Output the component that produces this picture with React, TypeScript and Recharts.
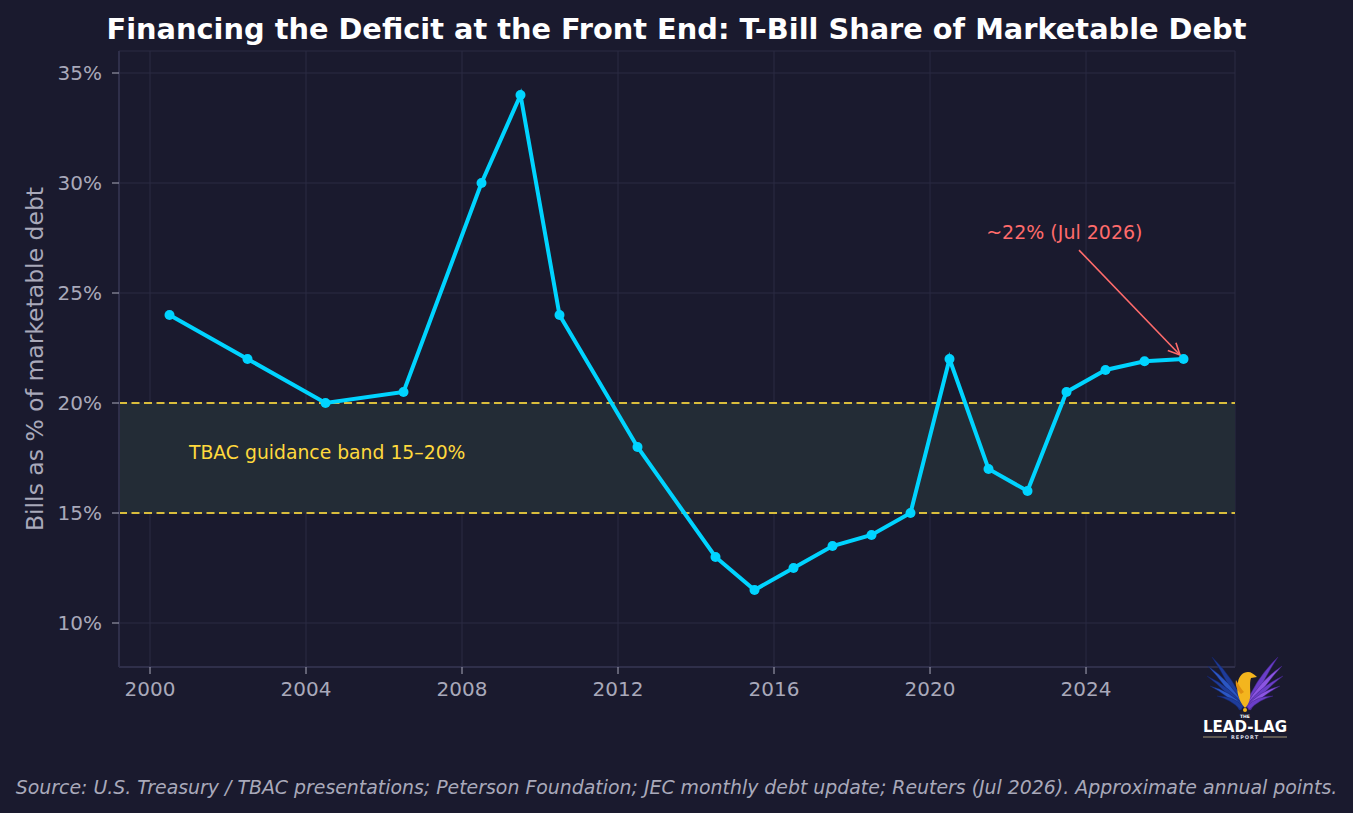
import React from "react";
import {
  LineChart,
  Line,
  XAxis,
  YAxis,
  CartesianGrid,
  ReferenceArea,
  ReferenceLine,
  ReferenceDot,
} from "recharts";

// Mid-year observation points (fractional years) and T-bill share of marketable debt (%)
const years = [
  2000.5, 2002.5, 2004.5, 2006.5, 2008.5, 2009.5, 2010.5, 2012.5, 2014.5, 2015.5,
  2016.5, 2017.5, 2018.5, 2019.5, 2020.5, 2021.5, 2022.5, 2023.5, 2024.5, 2025.5, 2026.5,
];
const billShare = [
  24, 22, 20, 20.5, 30, 34, 24, 18, 13, 11.5,
  12.5, 13.5, 14, 15, 22, 17, 16, 20.5, 21.5, 21.9, 22,
];

const xTicks = [2000, 2004, 2008, 2012, 2016, 2020, 2024];
const yTicks = [10, 15, 20, 25, 30, 35];

const bandLow = 15;
const bandHigh = 20;
const bandLabel = "TBAC guidance band 15–20%";
const calloutText = "~22% (Jul 2026)";

const title = "Financing the Deficit at the Front End: T-Bill Share of Marketable Debt";
const yLabel = "Bills as % of marketable debt";
const source =
  "Source: U.S. Treasury / TBAC presentations; Peterson Foundation; JEC monthly debt update; Reuters (Jul 2026). Approximate annual points.";

const data = years.map((year, i) => ({ year, share: billShare[i] }));

const BG = "#1a1a2e";
const CYAN = "#00d4ff";
const GOLD = "#ffd93d";
const CORAL = "#ff6b6b";
const MUTED = "#a9a9ba";
const FONT = "'DejaVu Sans', sans-serif";

const Arrow = (props: any) => {
  const { x1, y1, x2, y2 } = props;
  const ang = Math.atan2(y2 - y1, x2 - x1);
  const len = 13;
  const spread = 0.45;
  const ax = x2 - len * Math.cos(ang - spread);
  const ay = y2 - len * Math.sin(ang - spread);
  const bx = x2 - len * Math.cos(ang + spread);
  const by = y2 - len * Math.sin(ang + spread);
  return (
    <g>
      <line x1={x1} y1={y1} x2={x2} y2={y2} stroke={CORAL} strokeWidth={1.6} />
      <polyline
        points={`${ax},${ay} ${x2},${y2} ${bx},${by}`}
        fill="none"
        stroke={CORAL}
        strokeWidth={1.6}
      />
    </g>
  );
};

// A single tapered feather from base (bx, by) to tip (tx, ty)
const feather = (bx: number, by: number, tx: number, ty: number, w: number, bend: number) => {
  const dx = tx - bx;
  const dy = ty - by;
  const l = Math.hypot(dx, dy);
  const nx = -dy / l;
  const ny = dx / l;
  const mx = (bx + tx) / 2 + nx * bend;
  const my = (by + ty) / 2 + ny * bend;
  return `M${bx + nx * w},${by + ny * w} Q${mx + nx * w},${my + ny * w} ${tx},${ty} Q${mx - nx * w},${my - ny * w} ${bx - nx * w},${by - ny * w} Z`;
};

const leftTips = [
  [22, 7],
  [18, 16],
  [17, 26],
  [20, 36],
  [27, 46],
];
const rightTips = leftTips.map(([x, y]) => [110 - x, y]);

const Logo = () => (
  <svg
    width={110}
    height={95}
    viewBox="0 0 110 95"
    style={{ position: "absolute", left: 1190, top: 650 }}
  >
    {leftTips.map(([x, y], i) => (
      <path
        key={`l${i}`}
        d={feather(52, 58, x, y, 3.4 - i * 0.3, 5)}
        fill={i % 2 === 0 ? "#1e3c9a" : "#2b57c4"}
        stroke="#14246a"
        strokeWidth={0.5}
      />
    ))}
    {rightTips.map(([x, y], i) => (
      <path
        key={`r${i}`}
        d={feather(58, 58, x, y, 3.4 - i * 0.3, -5)}
        fill={i % 2 === 0 ? "#6a3ec8" : "#8b55e2"}
        stroke="#3e2280"
        strokeWidth={0.5}
      />
    ))}
    {/* golden bird */}
    <path
      d="M55 58 C48 50 46 40 48 32 C49 26 53 22 58 22 C61 22 64 24 67 27 L61 28 C59 33 61 42 60 48 C59 53 57 56 55 58 Z"
      fill="#f3b51e"
    />
    <path d="M51 44 C47 40 45 35 46 30 C49 35 51 39 54 42 Z" fill="#e08f10" />
    <circle cx={55} cy={60} r={2} fill="#f3b51e" />
    <text x={55} y={68} textAnchor="middle" fill="#ffffff" fontFamily={FONT} fontSize={4.5} fontWeight="bold">
      THE
    </text>
    <text x={55} y={82} textAnchor="middle" fill="#ffffff" fontFamily={FONT} fontSize={16.5} fontWeight="bold" textLength={84} lengthAdjust="spacingAndGlyphs">
      LEAD-LAG
    </text>
    <line x1={13} y1={87} x2={37} y2={87} stroke="#c9b98a" strokeWidth={0.8} />
    <line x1={73} y1={87} x2={97} y2={87} stroke="#c9b98a" strokeWidth={0.8} />
    <text x={55} y={89} textAnchor="middle" fill="#d8d8e0" fontFamily={FONT} fontSize={5} fontWeight="bold" letterSpacing={1}>
      REPORT
    </text>
  </svg>
);

export default function App() {
  return (
    <div
      style={{
        position: "absolute",
        left: 0,
        top: 0,
        width: 1353,
        height: 813,
        background: BG,
        fontFamily: FONT,
        overflow: "hidden",
      }}
    >
      <div
        style={{
          position: "absolute",
          left: 0,
          top: 10,
          width: 1353,
          textAlign: "center",
          color: "#ffffff",
          fontWeight: "bold",
          fontSize: 28.8,
          lineHeight: "38px",
        }}
      >
        {title}
      </div>

      <LineChart
        width={1353}
        height={813}
        data={data}
        margin={{ top: 51, right: 118, left: 59, bottom: 106 }}
        style={{ position: "absolute", left: 0, top: 0 }}
      >
        <CartesianGrid stroke="#2a2a42" strokeWidth={1} />
        <ReferenceArea y1={bandLow} y2={bandHigh} fill="#232c36" fillOpacity={1} stroke="none" />
        <ReferenceLine y={bandHigh} stroke="#d9bd3c" strokeWidth={2} strokeDasharray="8 4.5" />
        <ReferenceLine y={bandLow} stroke="#d9bd3c" strokeWidth={2} strokeDasharray="8 4.5" />
        <XAxis
          dataKey="year"
          type="number"
          domain={[1999.205, 2027.82]}
          ticks={xTicks}
          allowDataOverflow
          height={40}
          tickSize={7}
          tickMargin={8}
          tick={{ fill: MUTED, fontSize: 20, fontFamily: FONT }}
          tickLine={{ stroke: MUTED }}
          axisLine={{ stroke: "#2f2f4a", strokeWidth: 2 }}
        />
        <YAxis
          type="number"
          domain={[8, 36]}
          ticks={yTicks}
          allowDataOverflow
          width={60}
          tickSize={7}
          tickMargin={10}
          tickFormatter={(v: number) => `${v}%`}
          tick={{ fill: MUTED, fontSize: 20, fontFamily: FONT }}
          tickLine={{ stroke: MUTED }}
          axisLine={{ stroke: "#2f2f4a", strokeWidth: 2 }}
          label={{
            value: yLabel,
            angle: -90,
            position: "insideLeft",
            offset: -24,
            fill: MUTED,
            fontSize: 23.5,
            fontFamily: FONT,
            style: { textAnchor: "middle" },
          }}
        />
        <ReferenceDot
          x={2001}
          y={17.75}
          r={0}
          shape={(p: any) => (
            <text x={p.cx} y={p.cy} dy="0.35em" fill={GOLD} fontSize={18.8} fontFamily={FONT}>
              {bandLabel}
            </text>
          )}
        />
        <ReferenceLine
          segment={[
            { x: 2023.82, y: 26.95 },
            { x: 2026.41, y: 22.18 },
          ]}
          shape={Arrow}
        />
        <ReferenceDot
          x={2021.44}
          y={27.77}
          r={0}
          shape={(p: any) => (
            <text x={p.cx} y={p.cy} dy="0.35em" fill={CORAL} fontSize={19} fontFamily={FONT}>
              {calloutText}
            </text>
          )}
        />
        <Line
          type="linear"
          dataKey="share"
          stroke={CYAN}
          strokeWidth={4}
          dot={{ r: 5, fill: CYAN, stroke: CYAN, strokeWidth: 0 }}
          activeDot={false}
          isAnimationActive={false}
        />
      </LineChart>

      <Logo />

      <div
        style={{
          position: "absolute",
          left: 0,
          top: 774,
          width: 1353,
          textAlign: "center",
          color: MUTED,
          fontStyle: "italic",
          fontSize: 18.9,
          lineHeight: "26px",
        }}
      >
        {source}
      </div>
    </div>
  );
}
